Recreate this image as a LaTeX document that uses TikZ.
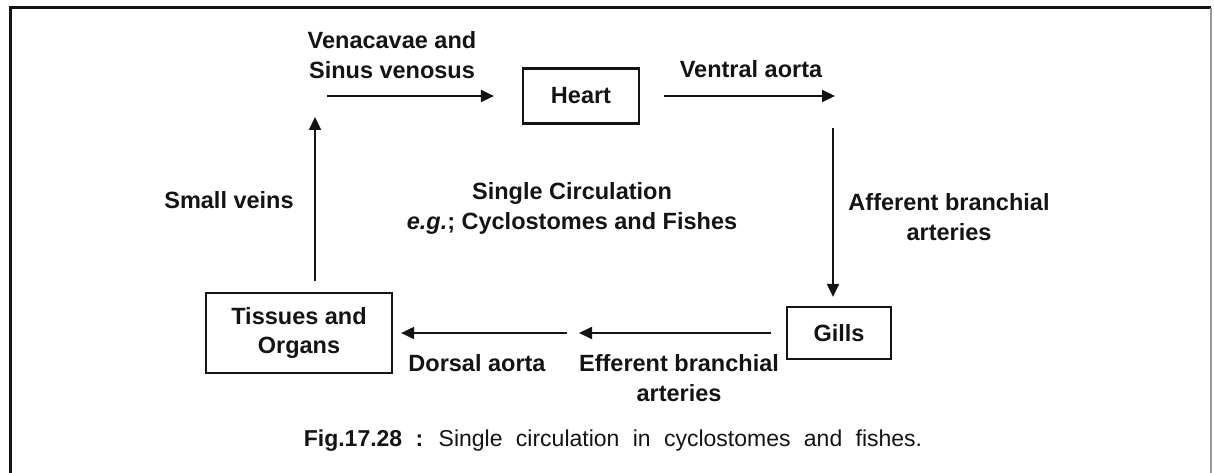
\documentclass[tikz,border=0pt]{standalone}
\usepackage{fontspec}
\setmainfont{Liberation Sans}
\usepackage{tikz}
\usetikzlibrary{arrows.meta,positioning,calc}
\definecolor{ink}{HTML}{141414}
\definecolor{rim}{HTML}{9A9A9A}
\newcommand{\capspacing}{\spaceskip=0.58em\relax}
\tikzset{
  organbox/.style={draw=ink,line width=2.2pt,align=center,inner sep=0pt,text=ink,font=\bfseries\fontsize{23.5}{29}\selectfont},
  vessel/.style={-{Triangle[length=13pt,width=12pt]},line width=2pt,draw=ink},
  vlabel/.style={align=center,inner sep=0pt,text=ink,font=\bfseries\fontsize{23.5}{30}\selectfont},
  figcaption/.style={inner sep=0pt,text=ink,font=\fontsize{23}{27}\selectfont}
}

\begin{document}
\begin{tikzpicture}[x=1pt,y=-1pt]
\useasboundingbox (0,0) rectangle (1214,473);
% frame, open at the bottom
\draw[ink,line width=3pt] (10,473) -- (10,8) -- (1211,8);
\draw[rim,line width=1.5pt] (1211,8) -- (1211,473);

\node[organbox,minimum width=116pt,minimum height=55pt] (heart) at (581,96) {Heart};
\node[organbox,minimum width=104pt,minimum height=52pt] (gills) at (839,333) {Gills};
\node[organbox,minimum width=186pt,minimum height=80pt] (tissues) at (299,333) {Tissues and\\Organs};

\coordinate (venaIn) at (327,96);
\coordinate (ventralOut) at (835,96);
\coordinate (affTop) at (833,128);
\coordinate (effOut) at (579,333);
\coordinate (dorsIn) at (567,333);
\coordinate (veinTop) at (315,117);

\draw[vessel,shorten >=28pt] (venaIn) -- (heart);
\draw[vessel,shorten <=24pt] (heart) -- (ventralOut);
\draw[vessel,shorten >=9pt] (affTop) -- (affTop |- gills.north);
\draw[vessel,shorten <=15pt] (gills) -- (effOut);
\draw[vessel,shorten >=8pt] (dorsIn) -- (tissues);
\draw[vessel,shorten <=11pt] (veinTop |- tissues.north) -- (veinTop);

\node[vlabel] (venaLbl) at (392,55) {Venacavae and\\Sinus venosus};
\node[vlabel] (ventralLbl) at (751,69) {Ventral aorta};
\node[vlabel] (afferentLbl) at (949,217) {Afferent branchial\\arteries};
\node[vlabel] (efferentLbl) at (679,378) {Efferent branchial\\arteries};
\node[vlabel] (dorsalLbl) at (477,363) {Dorsal aorta};
\node[vlabel] (veinLbl) at (229,200) {Small veins};
\node[vlabel] (modeLbl) at (572,208) {Single Circulation\\\textit{e.g.}; Cyclostomes and Fishes};
\node[figcaption] (figCap) at (613,441) {\capspacing\textbf{Fig.17.28 :} Single circulation in cyclostomes and fishes.};
\end{tikzpicture}
\end{document}
